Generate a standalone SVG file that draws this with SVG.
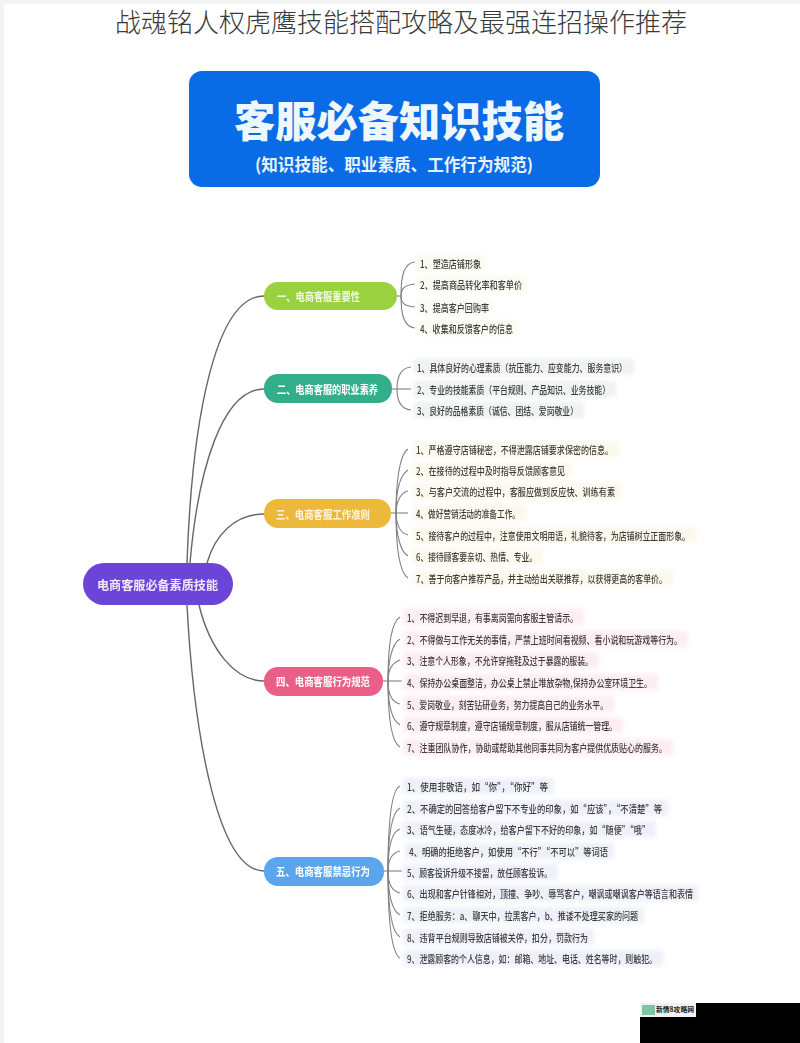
<svg xmlns="http://www.w3.org/2000/svg" width="800" height="1043" viewBox="0 0 800 1043">
<style>
text{font-family:"Noto Sans CJK SC","Noto Sans",sans-serif;dominant-baseline:central}
.title{font-size:26px;font-weight:300;fill:#3a3a3a;text-anchor:middle}
.leaf{font-size:10px;fill:#3d3d3d;font-weight:500;filter:url(#soft)}
.branch{font-size:11.5px;fill:#fff;font-weight:700;filter:url(#soft)}
.bg{filter:url(#halo)}
.conn path{fill:none;stroke:#666;stroke-width:1.4}
.leafconn path{fill:none;stroke:#808080;stroke-width:1.1}
</style>
<defs>
<filter id="soft" x="-5%" y="-30%" width="110%" height="160%"><feGaussianBlur stdDeviation="0.4"/></filter>
<filter id="halo" x="-10%" y="-60%" width="120%" height="220%"><feGaussianBlur stdDeviation="2.2"/></filter>
</defs>
<rect width="800" height="1043" fill="#fff"/>
<rect width="800" height="4" fill="#f4f4f4"/>
<rect width="4" height="1043" fill="#f4f4f4"/>
<text class="title" x="401" y="20" textLength="572">战魂铭人权虎鹰技能搭配攻略及最强连招操作推荐</text>

<g id="banner">
<rect x="189" y="71" width="411" height="116" rx="13" fill="#0a6be6"/>
<text x="234" y="118" font-size="42" font-weight="900" fill="#eef7fb" textLength="330" lengthAdjust="spacingAndGlyphs">客服必备知识技能</text>
<text x="255" y="163" font-size="17" font-weight="700" fill="#e6f3fa" textLength="278" lengthAdjust="spacingAndGlyphs">(知识技能、职业素质、工作行为规范)</text>
</g>

<g id="connectors">
<g class="conn">
<path d="M187 563C192 420 215 296 264 296"/>
<path d="M190 563C198 470 222 389 264 389"/>
<path d="M207 563C215 535 235 514 264 514"/>
<path d="M199 605C210 650 235 681 264 681"/>
<path d="M187 605C193 720 215 871 264 871"/>
</g>
<g class="leafconn">
<path d="M397 296H401"/>
<path d="M401 296C401 275 404 263 415 262"/>
<path d="M401 296C401 290 403 285 415 284"/>
<path d="M401 296C401 302 403 306 415 307"/>
<path d="M401 296C401 315 404 327 415 328"/>
<path d="M392 389H411"/>
<path d="M397 389C397 378 400 368 411 367"/>
<path d="M397 389C397 400 400 409 411 410"/>
<path d="M391 513H408"/>
<path d="M396 513C396 485 399 455 408 449"/>
<path d="M396 513C396 495 399 476 408 470"/>
<path d="M396 513C396 505 399 493 408 491"/>
<path d="M396 513C396 522 399 533 408 535"/>
<path d="M396 513C396 530 399 551 408 556"/>
<path d="M396 513C396 545 399 572 408 578"/>
<path d="M383 681H402"/>
<path d="M388 681C388 650 391 622 400 617"/>
<path d="M388 681C388 665 391 644 400 639"/>
<path d="M388 681C388 672 391 663 400 660"/>
<path d="M388 681C388 692 391 702 400 704"/>
<path d="M388 681C388 705 391 720 400 725"/>
<path d="M388 681C388 715 391 742 400 747"/>
<path d="M384 871H402"/>
<path d="M388 871C388 825 391 790 400 786"/>
<path d="M388 871C388 840 391 813 400 808"/>
<path d="M388 871C388 850 391 832 400 829"/>
<path d="M388 871C388 862 391 853 400 851"/>
<path d="M388 871C388 882 391 891 400 893"/>
<path d="M388 871C388 890 391 911 400 915"/>
<path d="M388 871C388 905 391 932 400 937"/>
<path d="M388 871C388 920 391 953 400 958"/>
</g>
</g>

<g id="root"><rect x="83" y="563" width="150" height="42" rx="21" fill="#6a45d8"/><text x="97" y="584" font-size="12.5" font-weight="700" fill="#f4e6f6" textLength="121" lengthAdjust="spacingAndGlyphs" filter="url(#soft)">电商客服必备素质技能</text></g>

<g id="n1"><rect x="264" y="282" width="133" height="28" rx="14" fill="#9ad23f"/><text class="branch" x="277" y="296" textLength="83" lengthAdjust="spacingAndGlyphs" opacity="0.85">一、电商客服重要性</text></g>
<g id="n2"><rect x="264" y="374" width="128" height="29" rx="14" fill="#33ae8a"/><text class="branch" x="277" y="389" textLength="101" lengthAdjust="spacingAndGlyphs">二、电商客服的职业素养</text></g>
<g id="n3"><rect x="264" y="499" width="127" height="29" rx="14" fill="#ecb93a"/><text class="branch" x="276" y="514" textLength="94" lengthAdjust="spacingAndGlyphs" opacity="0.85">三、电商客服工作准则</text></g>
<g id="n4"><rect x="264" y="667" width="119" height="29" rx="14" fill="#ea5f88"/><text class="branch" x="276" y="681" textLength="94" lengthAdjust="spacingAndGlyphs">四、电商客服行为规范</text></g>
<g id="n5"><rect x="264" y="857" width="120" height="29" rx="14" fill="#5aa5ec"/><text class="branch" x="276" y="871" textLength="94" lengthAdjust="spacingAndGlyphs">五、电商客服禁忌行为</text></g>

<g id="leaves1" fill="#fafbf1">
<g id="n1-1"><rect class="bg" x="417" y="255" width="68" height="16"/><text class="leaf" x="420" y="263" textLength="61" lengthAdjust="spacingAndGlyphs">1、塑造店铺形象</text></g>
<g id="n1-2"><rect class="bg" x="417" y="276" width="109" height="16"/><text class="leaf" x="420" y="284" textLength="102" lengthAdjust="spacingAndGlyphs">2、提高商品转化率和客单价</text></g>
<g id="n1-3"><rect class="bg" x="417" y="299" width="76" height="16"/><text class="leaf" x="420" y="307" textLength="69" lengthAdjust="spacingAndGlyphs">3、提高客户回购率</text></g>
<g id="n1-4"><rect class="bg" x="417" y="320" width="100" height="16"/><text class="leaf" x="420" y="328" textLength="93" lengthAdjust="spacingAndGlyphs">4、收集和反馈客户的信息</text></g>
</g>
<g id="leaves2" fill="#eef2f2">
<g id="n2-1"><rect class="bg" x="414" y="359" width="220" height="16"/><text class="leaf" x="417" y="367" textLength="210" lengthAdjust="spacingAndGlyphs">1、具体良好的心理素质（抗压能力、应变能力、服务意识）</text></g>
<g id="n2-2"><rect class="bg" x="414" y="381" width="202" height="16"/><text class="leaf" x="417" y="389" textLength="193" lengthAdjust="spacingAndGlyphs">2、专业的技能素质（平台规则、产品知识、业务技能）</text></g>
<g id="n2-3"><rect class="bg" x="414" y="402" width="170" height="16"/><text class="leaf" x="417" y="410" textLength="161" lengthAdjust="spacingAndGlyphs">3、良好的品格素质（诚信、团结、爱岗敬业）</text></g>
</g>
<g id="leaves3" fill="#fbf8ec">
<g id="n3-1"><rect class="bg" x="413" y="441" width="206" height="16"/><text class="leaf" x="416" y="449" textLength="197" lengthAdjust="spacingAndGlyphs">1、严格遵守店铺秘密，不得泄露店铺要求保密的信息。</text></g>
<g id="n3-2"><rect class="bg" x="413" y="462" width="158" height="16"/><text class="leaf" x="416" y="470" textLength="149" lengthAdjust="spacingAndGlyphs">2、在接待的过程中及时指导反馈顾客意见</text></g>
<g id="n3-3"><rect class="bg" x="413" y="483" width="208" height="16"/><text class="leaf" x="416" y="491" textLength="199" lengthAdjust="spacingAndGlyphs">3、与客户交流的过程中，客服应做到反应快、训练有素</text></g>
<g id="n3-4"><rect class="bg" x="413" y="505" width="113" height="16"/><text class="leaf" x="416" y="513" textLength="104" lengthAdjust="spacingAndGlyphs">4、做好营销活动的准备工作。</text></g>
<g id="n3-5"><rect class="bg" x="413" y="527" width="283" height="16"/><text class="leaf" x="416" y="535" textLength="274" lengthAdjust="spacingAndGlyphs">5、接待客户的过程中，注意使用文明用语，礼貌待客，为店铺树立正面形象。</text></g>
<g id="n3-6"><rect class="bg" x="413" y="548" width="130" height="16"/><text class="leaf" x="416" y="556" textLength="121" lengthAdjust="spacingAndGlyphs">6、接待顾客要亲切、热情、专业。</text></g>
<g id="n3-7"><rect class="bg" x="413" y="570" width="260" height="16"/><text class="leaf" x="416" y="578" textLength="251" lengthAdjust="spacingAndGlyphs">7、善于向客户推荐产品，并主动给出关联推荐，以获得更高的客单价。</text></g>
</g>
<g id="leaves4" fill="#fcedf1">
<g id="n4-1"><rect class="bg" x="403" y="609" width="181" height="16"/><text class="leaf" x="407" y="617" textLength="171" lengthAdjust="spacingAndGlyphs">1、不得迟到早退，有事离岗需向客服主管请示。</text></g>
<g id="n4-2"><rect class="bg" x="403" y="631" width="285" height="16"/><text class="leaf" x="407" y="639" textLength="275" lengthAdjust="spacingAndGlyphs">2、不得做与工作无关的事情，严禁上班时间看视频、看小说和玩游戏等行为。</text></g>
<g id="n4-3"><rect class="bg" x="403" y="652" width="196" height="16"/><text class="leaf" x="407" y="660" textLength="186" lengthAdjust="spacingAndGlyphs">3、注意个人形象，不允许穿拖鞋及过于暴露的服装。</text></g>
<g id="n4-4"><rect class="bg" x="403" y="674" width="255" height="16"/><text class="leaf" x="407" y="682" textLength="245" lengthAdjust="spacingAndGlyphs">4、保持办公桌面整洁，办公桌上禁止堆放杂物,保持办公室环境卫生。</text></g>
<g id="n4-5"><rect class="bg" x="403" y="696" width="211" height="16"/><text class="leaf" x="407" y="704" textLength="201" lengthAdjust="spacingAndGlyphs">5、爱岗敬业，刻苦钻研业务，努力提高自己的业务水平。</text></g>
<g id="n4-6"><rect class="bg" x="403" y="717" width="220" height="16"/><text class="leaf" x="407" y="725" textLength="210" lengthAdjust="spacingAndGlyphs">6、遵守规章制度，遵守店铺规章制度，服从店铺统一管理。</text></g>
<g id="n4-7"><rect class="bg" x="403" y="739" width="270" height="16"/><text class="leaf" x="407" y="747" textLength="260" lengthAdjust="spacingAndGlyphs">7、注重团队协作，协助或帮助其他同事共同为客户提供优质贴心的服务。</text></g>
</g>
<g id="leaves5" fill="#eef0f9">
<g id="n5-1"><rect class="bg" x="403" y="778" width="151" height="16"/><text class="leaf" x="407" y="786" textLength="141" lengthAdjust="spacingAndGlyphs">1、使用非敬语，如“你”，“你好”等</text></g>
<g id="n5-2"><rect class="bg" x="403" y="800" width="265" height="16"/><text class="leaf" x="407" y="808" textLength="255" lengthAdjust="spacingAndGlyphs">2、不确定的回答给客户留下不专业的印象，如“应该”，“不清楚”等</text></g>
<g id="n5-3"><rect class="bg" x="403" y="821" width="253" height="16"/><text class="leaf" x="407" y="829" textLength="243" lengthAdjust="spacingAndGlyphs">3、语气生硬，态度冰冷，给客户留下不好的印象，如“随便”“哦”</text></g>
<g id="n5-4"><rect class="bg" x="405" y="843" width="209" height="16"/><text class="leaf" x="409" y="851" textLength="199" lengthAdjust="spacingAndGlyphs">4、明确的拒绝客户，如使用“不行”“不可以”等词语</text></g>
<g id="n5-5"><rect class="bg" x="403" y="864" width="155" height="16"/><text class="leaf" x="407" y="872" textLength="145" lengthAdjust="spacingAndGlyphs">5、顾客投诉升级不接留，放任顾客投诉。</text></g>
<g id="n5-6"><rect class="bg" x="403" y="885" width="295" height="16"/><text class="leaf" x="407" y="893" textLength="286" lengthAdjust="spacingAndGlyphs">6、出现和客户针锋相对，顶撞、争吵、辱骂客户，嘲讽或嘲讽客户等语言和表情</text></g>
<g id="n5-7"><rect class="bg" x="403" y="907" width="241" height="16"/><text class="leaf" x="407" y="915" textLength="231" lengthAdjust="spacingAndGlyphs">7、拒绝服务：a、聊天中，拉黑客户，b、推诿不处理买家的问题</text></g>
<g id="n5-8"><rect class="bg" x="403" y="929" width="191" height="16"/><text class="leaf" x="407" y="937" textLength="181" lengthAdjust="spacingAndGlyphs">8、违背平台规则导致店铺被关停，扣分，罚款行为</text></g>
<g id="n5-9"><rect class="bg" x="403" y="950" width="260" height="16"/><text class="leaf" x="407" y="958" textLength="250" lengthAdjust="spacingAndGlyphs">9、泄露顾客的个人信息，如：邮箱、地址、电话、姓名等时，则触犯。</text></g>
</g>

<rect x="640" y="1003" width="160" height="40" fill="#000"/>
<rect x="640" y="1003" width="56" height="14" fill="#f2f2f0"/>
<rect x="642" y="1005" width="13" height="10" fill="#7cc6a8"/>
<text x="656" y="1009" font-size="7" font-weight="700" fill="#222" textLength="38" lengthAdjust="spacingAndGlyphs">新情8攻略网</text>
</svg>
